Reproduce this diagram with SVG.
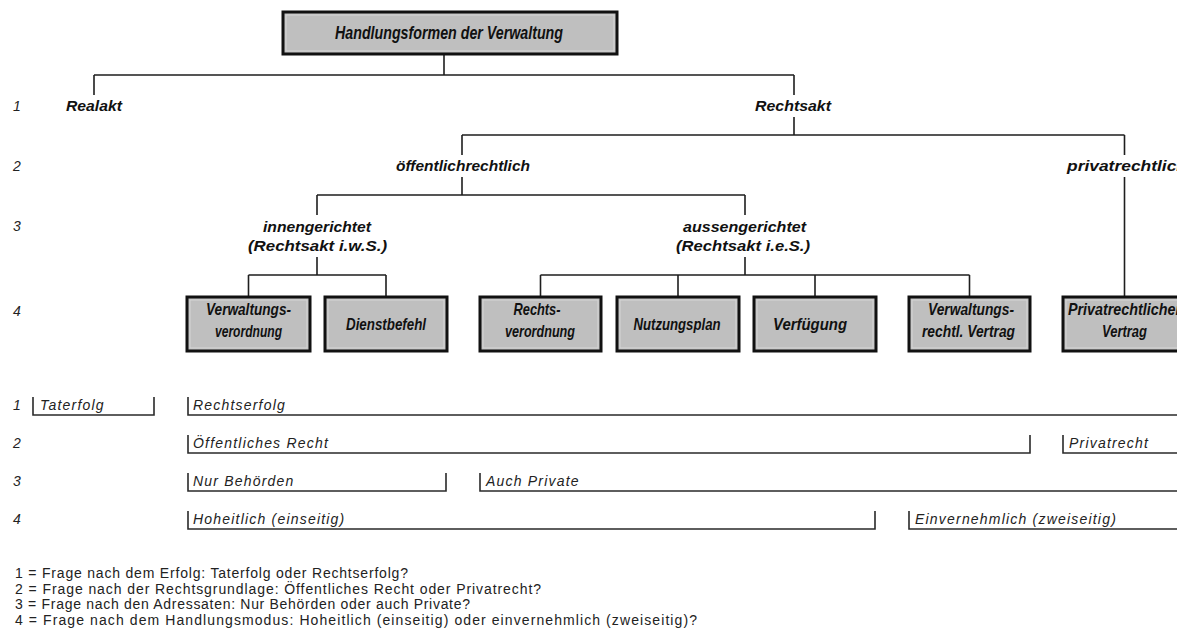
<svg xmlns="http://www.w3.org/2000/svg" width="1177" height="637" viewBox="0 0 1177 637">
<style>
.bg{fill:#ffffff}
.ln{stroke:#1e1e1e;stroke-width:1.6;fill:none}
.br{stroke:#2a2a2a;stroke-width:1.6;fill:none}
.box{fill:#bfbfbf;stroke:#111;stroke-width:3}
.inner{fill:none;stroke:#d6d6d6;stroke-width:1}
.t{font-family:"Liberation Sans",Arial,sans-serif;font-weight:bold;font-style:italic;fill:#111;text-anchor:middle}
.tb{font-family:"Liberation Sans",Arial,sans-serif;font-weight:bold;font-style:italic;fill:#111;text-anchor:middle;font-size:16.5px}
.num{font-family:"Liberation Sans",Arial,sans-serif;font-style:italic;fill:#222;font-size:14px}
.lab{font-family:"Liberation Sans",Arial,sans-serif;font-style:italic;fill:#222;font-size:14px;letter-spacing:1.2px}
.leg{font-family:"Liberation Sans",Arial,sans-serif;fill:#222;font-size:14px}
</style>
<rect class="bg" x="0" y="0" width="1177" height="637"/>

<g id="connectors">
<path class="ln" d="M444 54V75M94 75H794M94 75V95M794 75V95"/>
<path class="ln" d="M794 117V135M462 135H1124.5M462 135V155M1124.5 135V155"/>
<path class="ln" d="M462 177V195M317 195H745M317 195V215M745 195V215"/>
<path class="ln" d="M317 257V275M248.5 275H386M248.5 275V297M386 275V297"/>
<path class="ln" d="M745 257V275M540.5 275H969.5M540.5 275V297M678 275V297M815 275V297M969.5 275V297"/>
<path class="ln" d="M1124.5 177V297"/>
</g>

<g id="n-root">
<rect class="box" x="283" y="12" width="334" height="42"/>
<rect class="inner" x="286" y="15" width="328" height="36"/>
<text class="tb" x="449" y="39" style="font-size:17.5px" textLength="228" lengthAdjust="spacingAndGlyphs">Handlungsformen der Verwaltung</text>
</g>

<g id="rows-left">
<text class="num" x="13" y="111">1</text>
<text class="num" x="13" y="171">2</text>
<text class="num" x="13" y="231">3</text>
<text class="num" x="13" y="316">4</text>
</g>

<g id="n-realakt"><text class="t" x="94" y="111" font-size="15" textLength="56" lengthAdjust="spacingAndGlyphs">Realakt</text></g>
<g id="n-rechtsakt"><text class="t" x="793" y="111" font-size="15" textLength="76" lengthAdjust="spacingAndGlyphs">Rechtsakt</text></g>
<g id="n-oeffentlich"><text class="t" x="463" y="171" font-size="15" textLength="134" lengthAdjust="spacingAndGlyphs">öffentlichrechtlich</text></g>
<g id="n-privat"><text class="t" x="1127" y="171" font-size="15" textLength="120" lengthAdjust="spacingAndGlyphs">privatrechtlich</text></g>
<g id="n-innen">
<text class="t" x="317" y="232" font-size="15" textLength="108" lengthAdjust="spacingAndGlyphs">innengerichtet</text>
<text class="t" x="317.5" y="251" font-size="15" textLength="139" lengthAdjust="spacingAndGlyphs">(Rechtsakt i.w.S.)</text>
</g>
<g id="n-aussen">
<text class="t" x="744.5" y="232" font-size="15" textLength="123" lengthAdjust="spacingAndGlyphs">aussengerichtet</text>
<text class="t" x="743" y="251" font-size="15" textLength="134" lengthAdjust="spacingAndGlyphs">(Rechtsakt i.e.S.)</text>
</g>

<g id="n-vwvo">
<rect class="box" x="187" y="297" width="123" height="54"/>
<rect class="inner" x="190" y="300" width="117" height="48"/>
<text class="tb" x="248.5" y="315" textLength="85" lengthAdjust="spacingAndGlyphs">Verwaltungs-</text>
<text class="tb" x="248.5" y="337" textLength="67" lengthAdjust="spacingAndGlyphs">verordnung</text>
</g>
<g id="n-dienst">
<rect class="box" x="325" y="297" width="122" height="54"/>
<rect class="inner" x="328" y="300" width="116" height="48"/>
<text class="tb" x="386" y="330" textLength="80" lengthAdjust="spacingAndGlyphs">Dienstbefehl</text>
</g>
<g id="n-rvo">
<rect class="box" x="480" y="297" width="121" height="54"/>
<rect class="inner" x="483" y="300" width="115" height="48"/>
<text class="tb" x="537" y="315" textLength="47" lengthAdjust="spacingAndGlyphs">Rechts-</text>
<text class="tb" x="540" y="337" textLength="70" lengthAdjust="spacingAndGlyphs">verordnung</text>
</g>
<g id="n-nutz">
<rect class="box" x="617" y="297" width="122" height="54"/>
<rect class="inner" x="620" y="300" width="116" height="48"/>
<text class="tb" x="677" y="330" textLength="87" lengthAdjust="spacingAndGlyphs">Nutzungsplan</text>
</g>
<g id="n-verf">
<rect class="box" x="754" y="297" width="122" height="54"/>
<rect class="inner" x="757" y="300" width="116" height="48"/>
<text class="tb" x="810" y="330" textLength="74" lengthAdjust="spacingAndGlyphs">Verfügung</text>
</g>
<g id="n-vwv">
<rect class="box" x="909" y="297" width="121" height="54"/>
<rect class="inner" x="912" y="300" width="115" height="48"/>
<text class="tb" x="971" y="315" textLength="86" lengthAdjust="spacingAndGlyphs">Verwaltungs-</text>
<text class="tb" x="968.5" y="337" textLength="93" lengthAdjust="spacingAndGlyphs">rechtl. Vertrag</text>
</g>
<g id="n-pv">
<rect class="box" x="1063" y="297" width="122" height="54"/>
<rect class="inner" x="1066" y="300" width="116" height="48"/>
<text class="tb" x="1124.5" y="315" textLength="113" lengthAdjust="spacingAndGlyphs">Privatrechtlicher</text>
<text class="tb" x="1124.5" y="337" textLength="45" lengthAdjust="spacingAndGlyphs">Vertrag</text>
</g>

<g id="rows-bottom">
<text class="num" x="13" y="410">1</text>
<text class="num" x="13" y="448">2</text>
<text class="num" x="13" y="486">3</text>
<text class="num" x="13" y="524">4</text>
</g>

<g id="brackets">
<path class="br" d="M33 397V415H154V397"/>
<path class="br" d="M188 397V415H1180"/>
<path class="br" d="M188 435V453H1030V435"/>
<path class="br" d="M1063 435V453H1180"/>
<path class="br" d="M188 473V491H446V473"/>
<path class="br" d="M480 473V491H1180"/>
<path class="br" d="M188 511V529H875V511"/>
<path class="br" d="M909 511V529H1180"/>
<text class="lab" x="40" y="410">Taterfolg</text>
<text class="lab" x="193" y="410">Rechtserfolg</text>
<text class="lab" x="193" y="448">Öffentliches Recht</text>
<text class="lab" x="1069" y="448">Privatrecht</text>
<text class="lab" x="193" y="486">Nur Behörden</text>
<text class="lab" x="486" y="486">Auch Private</text>
<text class="lab" x="193" y="524">Hoheitlich (einseitig)</text>
<text class="lab" x="915" y="524">Einvernehmlich (zweiseitig)</text>
</g>

<g id="legend">
<text class="leg" x="15" y="578" textLength="393" lengthAdjust="spacing">1 = Frage nach dem Erfolg: Taterfolg oder Rechtserfolg?</text>
<text class="leg" x="15" y="593.5" textLength="526" lengthAdjust="spacing">2 = Frage nach der Rechtsgrundlage: Öffentliches Recht oder Privatrecht?</text>
<text class="leg" x="15" y="609" textLength="455" lengthAdjust="spacing">3 = Frage nach den Adressaten: Nur Behörden oder auch Private?</text>
<text class="leg" x="15" y="624.5" textLength="682" lengthAdjust="spacing">4 = Frage nach dem Handlungsmodus: Hoheitlich (einseitig) oder einvernehmlich (zweiseitig)?</text>
</g>
</svg>
